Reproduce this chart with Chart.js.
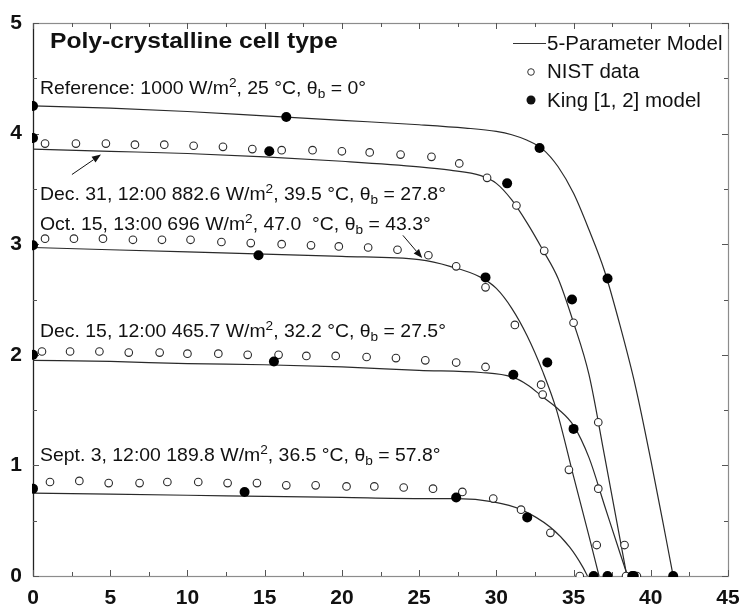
<!DOCTYPE html>
<html>
<head>
<meta charset="utf-8">
<script src="https://cdn.jsdelivr.net/npm/chart.js@4.4.0/dist/chart.umd.min.js"></script>
<style>
  html, body { margin: 0; padding: 0; background: #fff; }
  #wrap { width: 742px; height: 610px; }
</style>
</head>
<body>
<div id="wrap"><canvas id="chart" width="742" height="610"></canvas></div>
<script>
// tick labels
const xTicks = [0, 5, 10, 15, 20, 25, 30, 35, 40, 45];
const yTicks = [0, 1, 2, 3, 4, 5];

// 5-parameter model curves (voltage, current)
const refModelV  = [0, 5, 10, 15, 20, 25, 28, 30, 31, 32, 33, 34, 35, 36, 37, 38, 39, 40, 41, 41.45];
const refModelI  = [4.25, 4.23, 4.2, 4.16, 4.12, 4.08, 4.05, 4.02, 3.99, 3.94, 3.86, 3.70, 3.46, 3.13, 2.76, 2.27, 1.72, 1.05, 0.33, 0];
const dec31ModelV = [0, 5, 10, 15, 20, 25, 27, 29, 30, 31, 32, 33, 34, 35, 36, 37, 38, 38.45];
const dec31ModelI = [3.86, 3.84, 3.82, 3.79, 3.75, 3.70, 3.67, 3.62, 3.55, 3.40, 3.19, 2.95, 2.69, 2.29, 1.82, 1.09, 0.34, 0];
const oct15ModelV = [0, 5, 10, 15, 20, 25, 27, 29, 30, 31, 32, 33, 33.9, 35, 36, 36.65];
const oct15ModelI = [2.97, 2.95, 2.93, 2.91, 2.89, 2.86, 2.80, 2.70, 2.60, 2.42, 2.17, 1.85, 1.50, 0.90, 0.36, 0];
const dec15ModelV = [0, 5, 10, 15, 20, 25, 29, 31, 32, 33, 34, 35, 36, 37, 38, 38.5];
const dec15ModelI = [1.95, 1.94, 1.92, 1.91, 1.89, 1.86, 1.84, 1.80, 1.73, 1.62, 1.51, 1.36, 1.07, 0.64, 0.21, 0];
const sep3ModelV = [0, 5, 10, 15, 20, 25, 27.5, 29.8, 31.6, 33.5, 34.75, 35.6, 35.9];
const sep3ModelI = [0.75, 0.74, 0.73, 0.72, 0.71, 0.70, 0.70, 0.67, 0.60, 0.44, 0.26, 0.08, 0];

// NIST measured data
const dec31NistV = [0.78, 2.78, 4.72, 6.6, 8.5, 10.4, 12.3, 14.2, 16.1, 18.1, 20.0, 21.8, 23.8, 25.8, 27.6, 29.4, 31.3, 33.1, 35.0, 36.6, 38.3, 39.1];
const dec31NistI = [3.91, 3.91, 3.91, 3.90, 3.90, 3.89, 3.88, 3.86, 3.85, 3.85, 3.84, 3.83, 3.81, 3.79, 3.73, 3.60, 3.35, 2.94, 2.29, 1.39, 0.28, 0];
const oct15NistV = [0.78, 2.65, 4.53, 6.47, 8.35, 10.2, 12.2, 14.1, 16.1, 18.0, 19.8, 21.7, 23.6, 25.6, 27.4, 29.3, 31.2, 32.9, 34.7, 36.5];
const oct15NistI = [3.05, 3.05, 3.05, 3.04, 3.04, 3.04, 3.02, 3.01, 3.00, 2.99, 2.98, 2.97, 2.95, 2.90, 2.80, 2.61, 2.27, 1.73, 0.96, 0.28];
const dec15NistV = [0.58, 2.4, 4.3, 6.2, 8.2, 10.0, 12.0, 13.9, 15.9, 17.7, 19.6, 21.6, 23.5, 25.4, 27.4, 29.3, 33.0, 36.6, 38.4];
const dec15NistI = [2.03, 2.03, 2.03, 2.02, 2.02, 2.01, 2.01, 2.00, 2.00, 1.99, 1.99, 1.98, 1.97, 1.95, 1.93, 1.89, 1.64, 0.79, 0];
const sep3NistV = [1.1, 3.0, 4.9, 6.9, 8.7, 10.7, 12.6, 14.5, 16.4, 18.3, 20.3, 22.1, 24.0, 25.9, 27.8, 29.8, 31.6, 33.5, 35.4];
const sep3NistI = [0.85, 0.86, 0.84, 0.84, 0.85, 0.85, 0.84, 0.84, 0.82, 0.82, 0.81, 0.81, 0.80, 0.79, 0.76, 0.70, 0.60, 0.39, 0];

// King [1, 2] model points
const refKingV   = [0, 16.4, 32.8, 37.2, 41.45];
const refKingI   = [4.25, 4.15, 3.87, 2.69, 0];
const dec31KingV = [0, 15.3, 30.7, 34.9, 38.9];
const dec31KingI = [3.96, 3.84, 3.55, 2.50, 0];
const oct15KingV = [0, 14.6, 29.3, 33.3, 37.2];
const oct15KingI = [2.99, 2.90, 2.70, 1.93, 0];
const dec15KingV = [0, 15.6, 31.1, 35.0, 38.8];
const dec15KingI = [2.00, 1.94, 1.82, 1.33, 0];
const sep3KingV  = [0, 13.7, 27.4, 32.0, 36.3];
const sep3KingI  = [0.79, 0.76, 0.71, 0.53, 0];

const FONT = "'Liberation Sans', Arial, sans-serif";

function pts(xs, ys) { return xs.map((v, i) => ({ x: v, y: ys[i] })); }

function modelSet(label, xs, ys) {
  return {
    label, data: pts(xs, ys), showLine: true, borderColor: '#2a2a2a', borderWidth: 1.2,
    pointRadius: 0, cubicInterpolationMode: 'monotone', order: 3
  };
}
function nistSet(label, xs, ys) {
  return {
    label, data: pts(xs, ys), showLine: false, pointRadius: 3.8, pointBorderWidth: 1.1,
    pointBackgroundColor: '#fff', pointBorderColor: '#2a2a2a', order: 2, clip: 1
  };
}
function kingSet(label, xs, ys) {
  return {
    label, data: pts(xs, ys), showLine: false, pointRadius: 5,
    pointBackgroundColor: '#000', pointBorderColor: '#000', pointBorderWidth: 0, order: 1, clip: 1
  };
}

// text notes: [x, y (baseline), segments]
const notes = [
  [0.45, 4.358, [['Reference: 1000 W/m'], ['2', 'sup'], [', 25 °C, θ'], ['b', 'sub'], [' = 0°']]],
  [0.45, 3.40,  [['Dec. 31, 12:00 882.6 W/m'], ['2', 'sup'], [', 39.5 °C, θ'], ['b', 'sub'], [' = 27.8°']]],
  [0.45, 3.128, [['Oct. 15, 13:00 696 W/m'], ['2', 'sup'], [', 47.0  °C, θ'], ['b', 'sub'], [' = 43.3°']]],
  [0.45, 2.161, [['Dec. 15, 12:00 465.7 W/m'], ['2', 'sup'], [', 32.2 °C, θ'], ['b', 'sub'], [' = 27.5°']]],
  [0.45, 1.04,  [['Sept. 3, 12:00 189.8 W/m'], ['2', 'sup'], [', 36.5 °C, θ'], ['b', 'sub'], [' = 57.8°']]]
];
// arrows: from (x,y) to (x,y)
const arrows = [
  [2.52, 3.63, 4.4, 3.81],
  [23.95, 3.08, 25.2, 2.875]
];

function drawRich(ctx, x, y, segs) {
  ctx.save();
  ctx.translate(x, y);
  ctx.scale(1.05, 1);
  let cx = 0;
  for (const [t, kind] of segs) {
    if (kind === 'sup') { ctx.font = '13px ' + FONT; ctx.fillText(t, cx, -7); }
    else if (kind === 'sub') { ctx.font = '13px ' + FONT; ctx.fillText(t, cx, 4); }
    else { ctx.font = '18.5px ' + FONT; ctx.fillText(t, cx, 0); }
    cx += ctx.measureText(t).width;
  }
  ctx.restore();
}

function drawArrow(ctx, x1, y1, x2, y2) {
  const ang = Math.atan2(y2 - y1, x2 - x1);
  const L = 9, W = 3.5;
  ctx.beginPath(); ctx.moveTo(x1, y1); ctx.lineTo(x2 - L * Math.cos(ang), y2 - L * Math.sin(ang)); ctx.stroke();
  ctx.beginPath();
  ctx.moveTo(x2, y2);
  ctx.lineTo(x2 - L * Math.cos(ang) + W * Math.sin(ang), y2 - L * Math.sin(ang) - W * Math.cos(ang));
  ctx.lineTo(x2 - L * Math.cos(ang) - W * Math.sin(ang), y2 - L * Math.sin(ang) + W * Math.cos(ang));
  ctx.closePath(); ctx.fill();
}

const framePlugin = {
  id: 'frame',
  beforeDatasetsDraw(chart) {
    const { ctx, chartArea: a, scales: { x, y } } = chart;
    ctx.save();
    ctx.lineWidth = 1.2;
    ctx.strokeStyle = '#8c8c8c';
    ctx.strokeRect(a.left + 0.5, a.top + 0.5, a.right - a.left, a.bottom - a.top);
    ctx.strokeStyle = '#222';
    ctx.beginPath(); ctx.moveTo(a.left + 0.5, a.top); ctx.lineTo(a.left + 0.5, a.bottom); ctx.stroke();
    ctx.strokeStyle = '#555';
    ctx.lineWidth = 1;
    for (let i = 0; i < xTicks.length * 2 - 1; i++) {
      const v = i * 2.5, px = Math.round(x.getPixelForValue(v)) + 0.5, len = i % 2 ? 4 : 6;
      ctx.beginPath();
      ctx.moveTo(px, a.bottom); ctx.lineTo(px, a.bottom - len);
      ctx.moveTo(px, a.top); ctx.lineTo(px, a.top + len);
      ctx.stroke();
    }
    for (let i = 0; i < yTicks.length * 2 - 1; i++) {
      const v = i * 0.5, py = Math.round(y.getPixelForValue(v)) + 0.5, len = i % 2 ? 4 : 6;
      ctx.beginPath();
      ctx.moveTo(a.left, py); ctx.lineTo(a.left + len, py);
      ctx.moveTo(a.right, py); ctx.lineTo(a.right - len, py);
      ctx.stroke();
    }
    ctx.restore();
  },
  afterDatasetsDraw(chart) {
    const { ctx, chartArea: a, scales: { x, y } } = chart;
    ctx.save();
    ctx.fillStyle = '#111';
    ctx.strokeStyle = '#111';
    ctx.textBaseline = 'alphabetic';
    ctx.textAlign = 'left';
    // title
    ctx.save();
    ctx.translate(x.getPixelForValue(1.1), y.getPixelForValue(4.774));
    ctx.scale(1.12, 1);
    ctx.font = 'bold 22px ' + FONT;
    ctx.fillText('Poly-crystalline cell type', 0, 0);
    ctx.restore();
    for (const [nx, ny, segs] of notes) drawRich(ctx, x.getPixelForValue(nx), y.getPixelForValue(ny), segs);
    ctx.lineWidth = 1;
    for (const [x1, y1, x2, y2] of arrows)
      drawArrow(ctx, x.getPixelForValue(x1), y.getPixelForValue(y1), x.getPixelForValue(x2), y.getPixelForValue(y2));
    // legend
    const lx = a.right - 215;
    ctx.font = '20.5px ' + FONT;
    ctx.strokeStyle = '#333';
    ctx.beginPath(); ctx.moveTo(lx, a.top + 20.5); ctx.lineTo(lx + 33, a.top + 20.5); ctx.stroke();
    ctx.fillText('5-Parameter Model', lx + 34, a.top + 27);
    ctx.beginPath(); ctx.arc(lx + 18, a.top + 49, 3.3, 0, Math.PI * 2);
    ctx.fillStyle = '#fff'; ctx.fill(); ctx.lineWidth = 1; ctx.stroke();
    ctx.fillStyle = '#111';
    ctx.fillText('NIST data', lx + 34, a.top + 55);
    ctx.beginPath(); ctx.arc(lx + 18, a.top + 77, 4.5, 0, Math.PI * 2); ctx.fill();
    ctx.fillText('King [1, 2] model', lx + 34, a.top + 84);
    ctx.restore();
  }
};

const tickFont = { family: FONT, size: 21, weight: 'bold' };

new Chart(document.getElementById('chart'), {
  type: 'scatter',
  data: {
    datasets: [
      modelSet('Reference model', refModelV, refModelI),
      modelSet('Dec. 31 model', dec31ModelV, dec31ModelI),
      modelSet('Oct. 15 model', oct15ModelV, oct15ModelI),
      modelSet('Dec. 15 model', dec15ModelV, dec15ModelI),
      modelSet('Sept. 3 model', sep3ModelV, sep3ModelI),
      nistSet('Dec. 31 NIST', dec31NistV, dec31NistI),
      nistSet('Oct. 15 NIST', oct15NistV, oct15NistI),
      nistSet('Dec. 15 NIST', dec15NistV, dec15NistI),
      nistSet('Sept. 3 NIST', sep3NistV, sep3NistI),
      kingSet('Reference King', refKingV, refKingI),
      kingSet('Dec. 31 King', dec31KingV, dec31KingI),
      kingSet('Oct. 15 King', oct15KingV, oct15KingI),
      kingSet('Dec. 15 King', dec15KingV, dec15KingI),
      kingSet('Sept. 3 King', sep3KingV, sep3KingI)
    ]
  },
  options: {
    responsive: false,
    animation: false,
    devicePixelRatio: 1,
    layout: { padding: { top: 23, right: 14, left: 0, bottom: 0 } },
    plugins: { legend: { display: false }, tooltip: { enabled: false } },
    scales: {
      x: {
        type: 'linear', min: 0, max: 45,
        afterBuildTicks: s => { s.ticks = xTicks.map(v => ({ value: v })); },
        afterFit: s => { s.height = 34; },
        ticks: { color: '#111', font: tickFont, padding: 2 },
        grid: { display: false }, border: { display: false }
      },
      y: {
        type: 'linear', min: 0, max: 5,
        afterBuildTicks: s => { s.ticks = yTicks.map(v => ({ value: v })); },
        afterFit: s => { s.width = 33; },
        ticks: { color: '#111', font: tickFont, padding: 3 },
        grid: { display: false }, border: { display: false }
      }
    }
  },
  plugins: [framePlugin]
});
</script>
</body>
</html>
